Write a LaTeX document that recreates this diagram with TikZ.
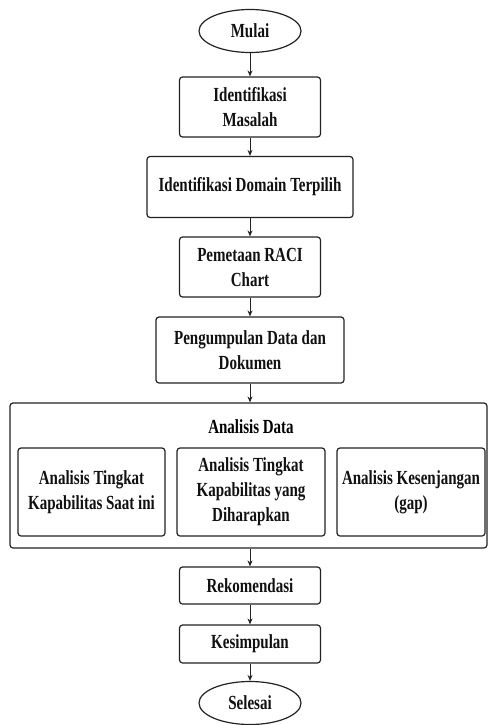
\documentclass[tikz,border=0pt]{standalone}
\usepackage{fontspec}
\setmainfont{Liberation Serif}[FakeStretch=0.75]
\usetikzlibrary{arrows.meta, positioning, shapes.geometric}

\begin{document}
\begin{tikzpicture}[
    x=1pt, y=-1pt,
    every node/.style={font=\fontsize{20}{25}\selectfont\bfseries},
]

% ---------------------------------------------------------------- colours
\definecolor{edgecol}{HTML}{222222}   % box borders and arrows
\definecolor{textcol}{HTML}{111111}

% ---------------------------------------------------------------- styles
\tikzset{
    terminal/.style={ellipse, draw=edgecol, line width=1.2pt, text=textcol,
                     minimum width=102pt, minimum height=43pt, inner sep=0pt},
    stepbox/.style={rectangle, rounded corners=3pt, draw=edgecol,
                    line width=1.2pt, text=textcol, align=center,
                    inner sep=0pt},
    flow/.style={-{Stealth[length=6pt, width=5pt]}, line width=0.9pt,
                 edgecol},
}

\useasboundingbox (0, 0) rectangle (489, 725);

% ----------------------------------------------------------------------
% main column, x = 250
% ----------------------------------------------------------------------
\node[terminal] (mulai) at (250, 31) {Mulai};
\node[stepbox, minimum width=141pt, minimum height=60pt] (masalah)
    at (250, 107) {Identifikasi\\Masalah};
\node[stepbox, minimum width=206pt, minimum height=61pt] (domain)
    at (250, 187) {Identifikasi Domain Terpilih};
\node[stepbox, minimum width=141pt, minimum height=60pt] (raci)
    at (250, 267) {Pemetaan RACI\\Chart};
\node[stepbox, minimum width=188pt, minimum height=66pt] (kumpul)
    at (250, 350) {Pengumpulan Data dan\\Dokumen};

% ----------------------------------------------------------------------
% analisis data: one frame holding three boxes
% ----------------------------------------------------------------------
\node[stepbox, minimum width=477pt, minimum height=145pt] (analisis)
    at (248.5, 475.5) {};
\node (judul) at (251, 427) {Analisis Data};

\node[stepbox, minimum width=147pt, minimum height=88pt] (saatini)
    at (91.5, 492) {Analisis Tingkat\\Kapabilitas Saat ini};
\node[stepbox, minimum width=148pt, minimum height=88pt] (harapan)
    at (251, 492) {Analisis Tingkat\\Kapabilitas yang\\Diharapkan};
\node[stepbox, minimum width=148pt, minimum height=88pt] (gap)
    at (411, 492) {Analisis Kesenjangan\\(gap)};

% ----------------------------------------------------------------------
% closing steps
% ----------------------------------------------------------------------
\node[stepbox, minimum width=141pt, minimum height=37pt] (rekom)
    at (250, 585.5) {Rekomendasi};
\node[stepbox, minimum width=141pt, minimum height=38pt] (simpul)
    at (250, 644) {Kesimpulan};
\node[terminal] (selesai) at (250, 703) {Selesai};

% ---------------------------------------------------------------- arrows
\draw[flow] (mulai) -- (masalah);
\draw[flow] (masalah) -- (domain);
\draw[flow] (domain) -- (raci);
\draw[flow] (raci) -- (kumpul);
\draw[flow] (kumpul.south) -- (kumpul.south |- analisis.north);
\draw[flow] (analisis.south -| rekom.north) -- (rekom.north);
\draw[flow] (rekom) -- (simpul);
\draw[flow] (simpul) -- (selesai);

\end{tikzpicture}
\end{document}
